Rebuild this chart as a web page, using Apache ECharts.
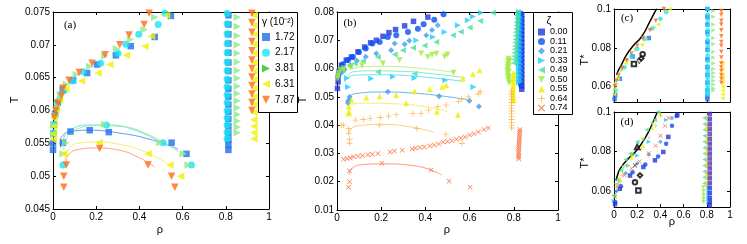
<!DOCTYPE html>
<html><head><meta charset="utf-8">
<script src="https://cdn.jsdelivr.net/npm/echarts@6/dist/echarts.min.js"></script>
<style>html,body{margin:0;padding:0;background:#fff}#c{width:747px;height:244px}</style>
</head><body><div id="c"></div>
<script>
// ---------- tick labels / legend names ----------
const gammaNames = ['1.72','2.17','3.81','6.31','7.87'];
const zetaNames = ['0.00','0.11','0.21','0.33','0.49','0.50','0.55','0.64','0.74'];
const xTicksRho = [0, 0.2, 0.4, 0.6, 0.8, 1];
const yTicksA = [0.045, 0.05, 0.055, 0.06, 0.065, 0.07, 0.075];
const yTicksB = [0.01, 0.02, 0.03, 0.04, 0.05, 0.06, 0.07, 0.08];
const yTicksCD = [0.06, 0.08, 0.1];

// ---------- panel (a): T vs rho, by gamma ----------
const a172 = [[0.546,0.0744],[0.471,0.0712],[0.360,0.0698],[0.291,0.0684],[0.204,0.0670],[0.158,0.0657],[0.093,0.0646],[0.045,0.0632],[0.022,0.0612],[0.010,0.0595],[0.004,0.0578],[0.002,0.0565],
  [0.000,0.0550],[0.000,0.0540],[0.046,0.0551],[0.081,0.0568],[0.170,0.0570],[0.258,0.0567],[0.549,0.0551],[0.618,0.0534]];
const a172LiqRho = 0.812;
const a172LiqT = [0.0745,0.0731,0.0716,0.0702,0.0688,0.0673,0.0660,0.0646,0.0633,0.0621,0.0609,0.0598,0.0587,0.0576,0.0566,0.0556,0.0548,0.0540];
const a217 = [[0.518,0.0748],[0.487,0.0731],[0.397,0.0716],[0.337,0.0701],[0.301,0.0687],[0.220,0.0672],[0.139,0.0659],[0.090,0.0645],[0.050,0.0630],[0.030,0.0616],[0.016,0.0603],[0.009,0.0591],[0.005,0.0579],[0.003,0.0566],
  [0.046,0.0517],[0.247,0.0578],[0.510,0.0551],[0.641,0.0517]];
const a217LiqRho = 0.806;
const a217LiqT = [0.0748,0.0732,0.0717,0.0702,0.0688,0.0674,0.0661,0.0648,0.0636,0.0624,0.0612,0.0600,0.0589,0.0578,0.0567,0.0557];
const a381 = [[0.471,0.0742],[0.422,0.0723],[0.359,0.0708],[0.294,0.0694],[0.240,0.0683],[0.170,0.0667],[0.108,0.0655],[0.062,0.0640],[0.035,0.0624],[0.020,0.0608],[0.011,0.0593],[0.006,0.0578],[0.003,0.0563],
  [0.059,0.0551],[0.046,0.0534],[0.240,0.0579],[0.495,0.0551],[0.603,0.0534],[0.626,0.0517]];
const a381LiqRho = 0.853;
const a381LiqT = [0.0742,0.0728,0.0714,0.0700,0.0687,0.0674,0.0661,0.0649,0.0637,0.0626,0.0615,0.0604,0.0594,0.0584,0.0575,0.0566];
const a631 = [[0.526,0.0745],[0.456,0.0713],[0.425,0.0698],[0.340,0.0684],[0.263,0.0670],[0.209,0.0657],[0.132,0.0645],[0.060,0.0633],[0.030,0.0616],[0.014,0.0601],[0.006,0.0588],[0.003,0.0576],[0.001,0.0565],[0.001,0.0556],
  [0.050,0.0534],[0.213,0.0551],[0.440,0.0534],[0.541,0.0517],[0.591,0.0500]];
const a631LiqRho = 0.930;
const a631LiqT = [0.0745,0.0730,0.0716,0.0701,0.0687,0.0673,0.0660,0.0647,0.0634,0.0621,0.0609,0.0597,0.0586,0.0576,0.0566,0.0557];
const a787 = [[0.445,0.0748],[0.422,0.0731],[0.352,0.0715],[0.309,0.0700],[0.241,0.0685],[0.181,0.0672],[0.121,0.0658],[0.074,0.0646],[0.046,0.0634],[0.039,0.0622],[0.023,0.0611],[0.013,0.0600],[0.007,0.0590],
  [0.062,0.0517],[0.050,0.0500],[0.050,0.0483],[0.216,0.0542],[0.440,0.0517],[0.549,0.0500],[0.564,0.0483]];
const a787LiqRho = 0.921;
const a787LiqT = [0.0748,0.0734,0.0719,0.0705,0.0691,0.0677,0.0664,0.0651,0.0638,0.0625,0.0612,0.0600];
const aFit172 = [[0.036,0.0543],[0.034,0.0552],[0.045,0.0562],[0.08,0.0568],[0.17,0.0570],[0.30,0.0566],[0.45,0.0556],[0.58,0.0541]];
const aFit217 = [[0.045,0.0545],[0.05,0.0558],[0.09,0.0572],[0.17,0.0578],[0.25,0.0578],[0.38,0.0570],[0.50,0.0551]];
const aFit381 = [[0.05,0.0540],[0.06,0.0556],[0.10,0.0570],[0.20,0.0577],[0.30,0.0576],[0.45,0.0562],[0.58,0.0537]];
const aFit631 = [[0.054,0.0525],[0.07,0.0540],[0.116,0.0550],[0.20,0.0552],[0.30,0.0549],[0.42,0.0538],[0.53,0.0519]];
const aFit787 = [[0.06,0.0522],[0.075,0.0534],[0.124,0.0541],[0.20,0.0543],[0.30,0.0540],[0.40,0.0528],[0.47,0.0514]];

// ---------- panel (b): T vs rho, by zeta ----------
const b000 = [[0.411,0.0782],[0.346,0.0767],[0.306,0.0751],[0.265,0.0738],[0.235,0.0727],[0.208,0.0714],[0.178,0.0700],[0.152,0.0691],[0.125,0.0676],[0.095,0.0659],[0.065,0.0641],[0.042,0.0630],[0.020,0.0612],[0.009,0.0588],[0.005,0.0553],[0.002,0.0530]];
const b000LiqRho = 0.836;
const b000LiqT = [0.0790,0.0776,0.0762,0.0748,0.0734,0.0720,0.0706,0.0692,0.0678,0.0664,0.0650,0.0636,0.0622,0.0608,0.0594,0.0580,0.0566,0.0552,0.0538,0.0527];
const b011 = [[0.482,0.0792],[0.440,0.0773],[0.392,0.0757],[0.366,0.0741],[0.321,0.0729],[0.268,0.0718],[0.230,0.0712],[0.193,0.0694],[0.160,0.0689],[0.130,0.0671],[0.099,0.0659],[0.072,0.0641],[0.050,0.0630],[0.027,0.0615],[0.012,0.0594],[0.005,0.0571]];
const b011LiqRho = 0.832;
const b011LiqT = [0.0795,0.0780,0.0765,0.0750,0.0735,0.0720,0.0705,0.0690,0.0675,0.0660,0.0645,0.0630,0.0615,0.0600,0.0585,0.0570,0.0555,0.0543];
const b021 = [[0.456,0.0753],[0.430,0.0736],[0.404,0.0718],[0.327,0.0698],[0.306,0.0686],[0.261,0.0689],[0.245,0.0665],[0.178,0.0653],[0.130,0.0642],[0.090,0.0628],[0.060,0.0612],[0.035,0.0598],[0.020,0.0585],
  [0.050,0.0478],[0.054,0.0488],[0.057,0.0500],[0.230,0.0518],[0.462,0.0502],[0.599,0.0486],[0.642,0.0466]];
const b021LiqRho = 0.828;
const b021LiqT = [0.0780,0.0765,0.0750,0.0735,0.0720,0.0705,0.0690,0.0675,0.0660,0.0645,0.0630,0.0615,0.0600,0.0585,0.0570,0.0557];
const b033 = [[0.652,0.0797],[0.615,0.0784],[0.592,0.0771],[0.547,0.0753],[0.487,0.0729],[0.434,0.0712],[0.359,0.0700],
  [0.045,0.0567],[0.050,0.0535],[0.155,0.0565],[0.253,0.0571],[0.351,0.0567],[0.490,0.0559],[0.617,0.0535]];
const b033LiqRho = 0.823;
const b033LiqT = [0.0800,0.0785,0.0770,0.0755,0.0740,0.0725,0.0710,0.0695,0.0680,0.0665,0.0650,0.0635,0.0620,0.0605,0.0590,0.0575,0.0562,0.0552];
const b049 = [[0.705,0.0797],[0.648,0.0768],[0.600,0.0745],[0.560,0.0730],[0.524,0.0718],[0.449,0.0694],[0.396,0.0682],[0.344,0.0674],[0.298,0.0665],[0.261,0.0650],[0.185,0.0641],[0.117,0.0627],[0.080,0.0618],[0.057,0.0609],[0.027,0.0594],
  [0.185,0.0588],[0.351,0.0582],
  [0.818,0.0800],[0.816,0.0788],[0.815,0.0776],[0.813,0.0764],[0.812,0.0752],[0.811,0.0740],[0.810,0.0728],[0.809,0.0716],[0.808,0.0704],[0.807,0.0692],[0.806,0.0680],[0.805,0.0668],[0.804,0.0656],[0.803,0.0644],[0.802,0.0632],[0.801,0.0620]];
const b050 = [[0.381,0.0653],[0.411,0.0641],[0.430,0.0648],[0.450,0.0652],[0.487,0.0643],[0.500,0.0650],[0.283,0.0630],[0.208,0.0618],[0.113,0.0612],[0.060,0.0605],[0.030,0.0600],[0.015,0.0595],[0.008,0.0585],[0.004,0.0575],[0.003,0.0565],[0.527,0.0585],
  [0.776,0.0635],[0.774,0.0625],[0.773,0.0615],[0.772,0.0605],[0.771,0.0595],[0.772,0.0585],[0.773,0.0575],[0.775,0.0565],[0.777,0.0557],[0.779,0.0550],[0.780,0.0628],[0.779,0.0610],[0.778,0.0590],[0.779,0.0570]];
const b055 = [[0.645,0.0594],[0.615,0.0580],[0.569,0.0565],[0.494,0.0541],[0.476,0.0536],[0.420,0.0528],[0.351,0.0520],
  [0.268,0.0506],[0.193,0.0502],[0.133,0.0498],[0.065,0.0488],[0.054,0.0465],[0.054,0.0447],[0.053,0.0441],
  [0.313,0.0477],[0.452,0.0447],[0.547,0.0437],
  [0.800,0.0585],[0.799,0.0575],[0.798,0.0565],[0.797,0.0555],[0.797,0.0545],[0.796,0.0535],[0.796,0.0525],[0.797,0.0515],[0.797,0.0505],[0.798,0.0495],[0.798,0.0487]];
const b064 = [[0.648,0.0518],[0.640,0.0510],[0.595,0.0500],[0.563,0.0492],[0.550,0.0484],[0.494,0.0471],[0.456,0.0465],[0.414,0.0453],[0.381,0.0441],[0.343,0.0441],[0.268,0.0438],[0.233,0.0432],[0.196,0.0427],[0.150,0.0424],[0.120,0.0420],[0.083,0.0418],[0.030,0.0400],[0.020,0.0400],[0.193,0.0400],[0.361,0.0388],[0.493,0.0368],[0.565,0.0335],[0.053,0.0388],[0.053,0.0371],[0.057,0.0350],[0.057,0.0336]];
const b064LiqRho = 0.790;
const b064LiqT = [0.0520,0.0510,0.0500,0.0490,0.0480,0.0470,0.0460,0.0450,0.0440,0.0430,0.0420,0.0410,0.0400,0.0390];
const b074 = [[0.030,0.0279],[0.045,0.0282],[0.060,0.0284],[0.075,0.0288],[0.095,0.0290],[0.115,0.0292],[0.140,0.0295],[0.160,0.0297],[0.185,0.0300],[0.240,0.0305],[0.260,0.0309],[0.295,0.0311],[0.340,0.0316],[0.355,0.0318],[0.375,0.0321],[0.395,0.0323],[0.420,0.0326],[0.440,0.0330],[0.460,0.0333],[0.480,0.0340],[0.500,0.0342],[0.520,0.0345],[0.540,0.0350],[0.560,0.0354],[0.580,0.0358],[0.600,0.0365],[0.620,0.0370],[0.640,0.0376],[0.665,0.0385],[0.685,0.0390],
  [0.057,0.0239],[0.057,0.0200],[0.052,0.0180],[0.203,0.0265],[0.426,0.0241],[0.507,0.0202],[0.602,0.0180],
  [0.828,0.0385],[0.827,0.0378],[0.826,0.0371],[0.826,0.0364],[0.825,0.0357],[0.825,0.0350],[0.824,0.0343],[0.824,0.0336],[0.823,0.0329],[0.823,0.0322],[0.822,0.0315],[0.822,0.0308],[0.822,0.0301],[0.822,0.0294],[0.822,0.0287],[0.822,0.0280]];
const bFit021 = [[0.040,0.0478],[0.050,0.0495],[0.087,0.0512],[0.20,0.0517],[0.35,0.0513],[0.59,0.0490]];
const bFit033 = [[0.035,0.0550],[0.045,0.0565],[0.087,0.0577],[0.20,0.0578],[0.35,0.0573],[0.569,0.0555]];
const bFit049 = [[0.05,0.0575],[0.07,0.0588],[0.15,0.0592],[0.30,0.0590],[0.45,0.0580],[0.58,0.0568]];
const bFit050 = [[0.06,0.0595],[0.10,0.0605],[0.20,0.0608],[0.35,0.0603],[0.517,0.0588]];
const bFit055 = [[0.05,0.0462],[0.07,0.0474],[0.12,0.0478],[0.25,0.0476],[0.40,0.0465],[0.50,0.0448]];
const bFit064 = [[0.055,0.0370],[0.068,0.0390],[0.12,0.0400],[0.20,0.0403],[0.30,0.0398],[0.437,0.0376]];
const bFit074 = [[0.055,0.0225],[0.065,0.0245],[0.11,0.0260],[0.211,0.0263],[0.361,0.0255],[0.474,0.0224]];

// ---------- panel (c): T* vs rho, by gamma ----------
const c172 = [[0.005,0.0535],[0.010,0.0555],[0.050,0.0640],[0.160,0.0755],[0.300,0.0850],
  [0.805,0.1000],[0.805,0.0960],[0.805,0.0920],[0.805,0.0880],[0.805,0.0830],[0.805,0.0790],[0.805,0.0740],[0.805,0.0700],[0.805,0.0660],[0.805,0.0620],[0.805,0.0580],[0.805,0.0550],[0.805,0.0535]];
const c217 = [[0.015,0.0580],[0.040,0.0640],[0.090,0.0700],[0.150,0.0755],[0.200,0.0795],[0.260,0.0845],[0.330,0.0900],[0.400,0.0950],[0.450,0.0985],
  [0.808,0.1000],[0.808,0.0970],[0.808,0.0945],[0.808,0.0915],[0.808,0.0890],[0.808,0.0865],[0.808,0.0840],[0.808,0.0810],[0.808,0.0785],[0.808,0.0760],[0.808,0.0730],[0.808,0.0705],[0.808,0.0680],[0.808,0.0660],[0.808,0.0640],[0.808,0.0620],[0.808,0.0600],[0.808,0.0585],[0.808,0.0570],[0.808,0.0560]];
const c381 = [[0.020,0.0615],[0.070,0.0685],[0.120,0.0735],[0.190,0.0790],[0.280,0.0845],[0.350,0.0905],[0.460,0.0990],
  [0.858,0.0990],[0.858,0.0960],[0.858,0.0920],[0.858,0.0890],[0.858,0.0850],[0.858,0.0820],[0.858,0.0780],[0.858,0.0750],[0.858,0.0720],[0.858,0.0690],[0.858,0.0670],[0.858,0.0650],[0.858,0.0630],[0.858,0.0610],[0.858,0.0590],[0.858,0.0580]];
const c631 = [[0.000,0.0560],[0.005,0.0590],[0.030,0.0640],[0.100,0.0720],[0.240,0.0815],[0.380,0.0920],[0.480,0.1000],
  [0.935,0.0720],[0.935,0.0690],[0.935,0.0660],[0.935,0.0640],[0.935,0.0620],[0.935,0.0600],[0.935,0.0580],[0.935,0.0560],[0.935,0.0540]];
const c787 = [[0.008,0.0600],[0.020,0.0630],[0.040,0.0660],[0.070,0.0695],[0.110,0.0735],[0.150,0.0770],[0.200,0.0810],[0.250,0.0850],[0.310,0.0890],[0.360,0.0940],[0.430,0.1000],
  [0.925,0.0990],[0.925,0.0970],[0.925,0.0940],[0.925,0.0920],[0.925,0.0890],[0.925,0.0860],[0.925,0.0830],[0.925,0.0810],[0.925,0.0780],[0.925,0.0750],[0.925,0.0720],[0.925,0.0700],[0.925,0.0680],[0.925,0.0660],[0.925,0.0640],[0.925,0.0620]];
const cTheory = [[0.023,0.0660],[0.035,0.0680],[0.058,0.0705],[0.109,0.0764],[0.166,0.0810],[0.239,0.0858],[0.310,0.0936],[0.362,0.0996],[0.370,0.1000]];
const cOpenSq = [[0.172,0.0716]];
const cOpenTri = [[0.218,0.0729]];
const cOpenDia = [[0.235,0.0745]];
const cOpenCir = [[0.247,0.0767]];

// ---------- panel (d): T* vs rho, by zeta ----------
const d000 = [[0.009,0.0535],[0.050,0.0612],[0.138,0.0679],[0.253,0.0722],[0.353,0.0756],[0.425,0.0798],[0.468,0.0874],[0.546,0.0985]];
const d000LiqRho = 0.826;
const d000LiqT = [0.0990,0.0965,0.0940,0.0915,0.0890,0.0865,0.0840,0.0815,0.0790,0.0765,0.0740,0.0715,0.0690,0.0665,0.0640,0.0615,0.0590,0.0565,0.0545,0.0530];
const d011 = [[0.010,0.0545],[0.060,0.0625],[0.160,0.0695],[0.270,0.0735],[0.380,0.0775],[0.450,0.0840],[0.500,0.0930],[0.540,0.0980]];
const d021 = [[0.020,0.0600],[0.100,0.0690],[0.200,0.0740],[0.300,0.0785],[0.400,0.0850],[0.500,0.0970]];
const d033 = [[0.000,0.0550],[0.050,0.0650],[0.120,0.0730],[0.200,0.0780],[0.300,0.0850],[0.450,0.0960],
  [0.815,0.0620],[0.815,0.0600],[0.815,0.0580],[0.815,0.0560],[0.815,0.0540]];
const d049 = [[0.000,0.0580],[0.030,0.0660],[0.060,0.0705],[0.100,0.0760],[0.140,0.0790],[0.200,0.0850],[0.280,0.0910],[0.350,0.0960],[0.380,0.1000]];
const d049LiqRho = 0.780;
const d049LiqT = [0.0970,0.0940,0.0910,0.0880,0.0850,0.0820,0.0790,0.0760,0.0730,0.0700,0.0670,0.0640];
const d050 = [[0.000,0.0570],[0.020,0.0630],[0.080,0.0720],[0.150,0.0780],[0.250,0.0860],[0.330,0.0940],
  [0.772,0.0620],[0.772,0.0600],[0.772,0.0580],[0.772,0.0560],[0.772,0.0545]];
const d055 = [[0.050,0.0660],[0.150,0.0770],[0.250,0.0830],[0.330,0.0920],[0.400,0.0990],
  [0.800,0.0920],[0.800,0.0860],[0.800,0.0800],[0.800,0.0740],[0.800,0.0680],[0.800,0.0640]];
const d064 = [[0.020,0.0620],[0.070,0.0680],[0.120,0.0730],[0.170,0.0780],[0.230,0.0810],[0.300,0.0870],[0.360,0.0930],[0.400,0.0980]];
const d064LiqRho = 0.803;
const d064LiqT = [0.0990,0.0960,0.0930,0.0900,0.0870,0.0840,0.0810,0.0780,0.0750,0.0720,0.0690,0.0660,0.0630];
const d074 = [[0.010,0.0570],[0.040,0.0630],[0.090,0.0680],[0.150,0.0715],[0.220,0.0750],[0.300,0.0790],[0.360,0.0830],[0.400,0.0880],[0.440,0.0930],[0.470,0.0970]];
const d074LiqRho = 0.822;
const d074LiqT = [0.0980,0.0950,0.0920,0.0890,0.0860,0.0830,0.0800,0.0770,0.0740,0.0710,0.0680,0.0650];
const dTheory = [[0.017,0.0654],[0.030,0.0680],[0.052,0.0713],[0.123,0.0764],[0.196,0.0807],[0.282,0.0883],[0.330,0.0940],[0.373,0.1000]];
const dOpenTri = [[0.200,0.0823]];
const dOpenX = [[0.181,0.0730]];
const dOpenDia = [[0.224,0.0680]];
const dOpenCir = [[0.181,0.0645]];
const dOpenSq = [[0.210,0.0603]];

// ---------- helpers ----------
function pts(rho, Ts) { return Ts.map(t => [rho, t]); }
const FONT = 'Liberation Sans';
const PLUS = 'path://M0,4.3H10V5.7H0Z M4.3,0H5.7V10H4.3Z';
const XMARK = 'path://M0,1L1,0L10,9L9,10Z M9,0L10,1L1,10L0,9Z';
const TRI_R = 'path://M0,0L10,5L0,10Z';
const TRI_L = 'path://M10,0L0,5L10,10Z';
const TRI_D = 'path://M0,0L10,0L5,10Z';
const TRI_U = 'path://M5,0L10,10L0,10Z';
const colA = {'1.72':'#1f6fe8','2.17':'#18e4f4','3.81':'#8ee88e','6.31':'#f0f000','7.87':'#ff6a14'};
const symA = {'1.72':'rect','2.17':'circle','3.81':TRI_R,'6.31':TRI_L,'7.87':TRI_D};
const colB = {'0.00':'#2236dd','0.11':'#0a4ef2','0.21':'#3d9df0','0.33':'#18cfff','0.49':'#44df9c','0.50':'#a0ea40','0.55':'#f0ee00','0.64':'#ffb040','0.74':'#ff5a28'};
const symB = {'0.00':'rect','0.11':'circle','0.21':'diamond','0.33':TRI_R,'0.49':TRI_L,'0.50':TRI_D,'0.55':TRI_U,'0.64':PLUS,'0.74':XMARK};

function S(name, data, gi, cols, syms, size) {
  return {type:'scatter', name, data, xAxisIndex:gi, yAxisIndex:gi, symbol:syms[name],
    symbolSize:size, itemStyle:{color:cols[name]}, silent:true, z:2};
}
function O(data, gi, sym) {
  return {type:'scatter', data, xAxisIndex:gi, yAxisIndex:gi, symbol:sym, symbolSize:4.5,
    itemStyle:{color:'#000', borderWidth:0.8}, silent:true, z:3};
}
function L(data, gi, color, w) {
  return {type:'line', data, xAxisIndex:gi, yAxisIndex:gi, smooth:0.5, showSymbol:false, symbol:'none',
    lineStyle:{color, width:w||1}, silent:true, z:1};
}
function legItem(name, cols, syms, override) {
  return {name, icon:syms[name], itemStyle:{color: override || cols[name]}};
}

const grids = [
  {left:53, top:12, width:216, height:197},
  {left:337, top:12, width:221, height:198},
  {left:614, top:9, width:116, height:93},
  {left:614, top:112, width:116, height:95}
];
const fmt = v => String(+(+v).toFixed(4));
const lblStyle = {color:'#000', fontFamily:FONT, fontSize:10};
const lineSt = {lineStyle:{color:'#000', width:1}};

const xAxes = [], yAxes = [];
const yCfg = [
  {min:yTicksA[0], max:yTicksA[yTicksA.length-1], interval:0.005},
  {min:yTicksB[0], max:yTicksB[yTicksB.length-1], interval:0.01},
  {min:0.052, max:0.1, custom:yTicksCD},
  {min:0.052, max:0.1, custom:yTicksCD}
];
for (let i = 0; i < 4; i++) {
  const showX = i !== 2;
  for (const pos of ['bottom','top']) {
    xAxes.push({type:'value', gridIndex:i, position:pos, min:xTicksRho[0], max:xTicksRho[xTicksRho.length-1], interval:0.2,
      axisLine:{show:true, onZero:false, ...lineSt}, splitLine:{show:false},
      axisTick:{show:true, inside:true, length:3, ...lineSt},
      axisLabel:{show: pos==='bottom' && showX, margin:3, formatter:fmt, ...lblStyle}});
  }
  for (const pos of ['left','right']) {
    const c = yCfg[i];
    const ax = {type:'value', gridIndex:i, position:pos, min:c.min, max:c.max,
      axisLine:{show:true, onZero:false, ...lineSt}, splitLine:{show:false},
      axisTick:{show:true, inside:true, length:3, ...lineSt},
      axisLabel:{show: pos==='left', margin:3, formatter:fmt, ...lblStyle}};
    if (c.interval) ax.interval = c.interval;
    if (c.custom) { ax.axisTick.customValues = c.custom; ax.axisLabel.customValues = c.custom; }
    yAxes.push(ax);
  }
}
function remap(s) { s.xAxisIndex = s.xAxisIndex * 2; s.yAxisIndex = s.yAxisIndex * 2; return s; }

const series = [
  L(aFit172,0,'#5e9ff2'), L(aFit217,0,'#6fe2e2'), L(aFit381,0,'#a2eea2'), L(aFit631,0,'#f4f06a'), L(aFit787,0,'#ffa270'),
  S('1.72', a172.concat(pts(a172LiqRho,a172LiqT)), 0, colA, symA, 6.5),
  S('2.17', a217.concat(pts(a217LiqRho,a217LiqT)), 0, colA, symA, 7),
  S('3.81', a381.concat(pts(a381LiqRho,a381LiqT)), 0, colA, symA, 7.5),
  S('6.31', a631.concat(pts(a631LiqRho,a631LiqT)), 0, colA, symA, 7.5),
  S('7.87', a787.concat(pts(a787LiqRho,a787LiqT)), 0, colA, symA, 7.5),
  L(bFit021,1,'#6ab4f2'), L(bFit033,1,'#6ee0f8'), L(bFit049,1,'#8ee8c0'), L(bFit050,1,'#c4f08c'),
  L(bFit055,1,'#f2f06a'), L(bFit064,1,'#ffcc80'), L(bFit074,1,'#ff9a78'),
  S('0.00', b000.concat(pts(b000LiqRho,b000LiqT)), 1, colB, symB, 5.5),
  S('0.11', b011.concat(pts(b011LiqRho,b011LiqT)), 1, colB, symB, 6),
  S('0.21', b021.concat(pts(b021LiqRho,b021LiqT)), 1, colB, symB, 6),
  S('0.33', b033.concat(pts(b033LiqRho,b033LiqT)), 1, colB, symB, 6),
  S('0.49', b049, 1, colB, symB, 6),
  S('0.50', b050, 1, colB, symB, 6),
  S('0.55', b055, 1, colB, symB, 6),
  S('0.64', b064.concat(pts(b064LiqRho,b064LiqT)), 1, colB, symB, 6),
  S('0.74', b074, 1, colB, symB, 5),
  S('1.72', c172, 2, colA, symA, 4.5), S('2.17', c217, 2, colA, symA, 4.5), S('3.81', c381, 2, colA, symA, 4.5),
  S('6.31', c631, 2, colA, symA, 4.5), S('7.87', c787, 2, colA, symA, 4.5),
  L(cTheory, 2, '#000', 1.5),
  O(cOpenSq,2,'emptyRect'), O(cOpenTri,2,'path://M0,0L10,0L5,10Z'), O(cOpenDia,2,'emptyDiamond'), O(cOpenCir,2,'emptyCircle'),
  S('0.50', d050, 3, colB, symB, 4.5),
  S('0.49', d049.concat(pts(d049LiqRho,d049LiqT)), 3, colB, symB, 4.5),
  S('0.33', d033, 3, colB, symB, 4.5),
  S('0.55', d055, 3, colB, symB, 4.5),
  S('0.64', d064.concat(pts(d064LiqRho,d064LiqT)), 3, colB, symB, 4.5),
  S('0.21', d021, 3, colB, symB, 4.5),
  S('0.11', d011, 3, colB, symB, 4.5),
  S('0.00', d000.concat(pts(d000LiqRho,d000LiqT)), 3, colB, symB, 4.5),
  S('0.74', d074.concat(pts(d074LiqRho,d074LiqT)), 3, colB, symB, 4.5),
  L(dTheory, 3, '#000', 1.5),
  O(dOpenTri,3,'emptyTriangle'), O(dOpenX,3,XMARK), O(dOpenDia,3,'emptyDiamond'), O(dOpenCir,3,'emptyCircle'), O(dOpenSq,3,'emptyRect')
].map(remap);
// the open down-triangle in (c) should be hollow
series.forEach(s => { if (s.symbol === 'path://M0,0L10,0L5,10Z' && s.itemStyle.color === '#000') { s.itemStyle = {color:'#fff', borderColor:'#000', borderWidth:0.8}; } });

function txt(x, y, text, opt) {
  return {type:'text', x, y, rotation: (opt&&opt.rot)||0, z:10, style:{text, fill:'#000',
    font: (opt&&opt.font) || ('10px ' + FONT), textAlign:(opt&&opt.align)||'center', textVerticalAlign:'middle'}};
}

const option = {
  animation:false,
  backgroundColor:'#fff',
  grid: grids,
  xAxis: xAxes,
  yAxis: yAxes,
  series,
  legend: [
    {data: gammaNames.map(n => legItem(n, colA, symA, n==='3.81' ? '#22c422' : null)),
     orient:'vertical', left:262, top:32, itemWidth:8, itemHeight:8, itemGap:5.7, padding:0, selectedMode:false,
     textStyle:{fontFamily:FONT, fontSize:10, color:'#000', lineHeight:10}, z:6},
    {data: zetaNames.map(n => legItem(n, colB, symB, null)),
     orient:'vertical', left:538, top:27.5, itemWidth:7, itemHeight:7, itemGap:0.5, padding:0, selectedMode:false,
     textStyle:{fontFamily:FONT, fontSize:9, color:'#000', lineHeight:9}, z:6}
  ],
  graphic: [
    {type:'rect', z:5, shape:{x:258.5, y:12.5, width:39, height:100}, style:{fill:'#fff', stroke:'#000', lineWidth:1}},
    {type:'rect', z:5, shape:{x:533.5, y:12.5, width:39, height:102}, style:{fill:'#fff', stroke:'#000', lineWidth:1}},
    txt(262, 22, 'γ (10⁻²)', {align:'left'}),
    txt(549, 21, 'ζ', {font:'11px ' + FONT}),
    txt(70, 25, '(a)', {font:'11px "Liberation Serif"'}),
    txt(350, 23, '(b)', {font:'11px "Liberation Serif"'}),
    txt(627, 18, '(c)', {font:'11px "Liberation Serif"'}),
    txt(627, 122, '(d)', {font:'11px "Liberation Serif"'}),
    txt(15, 100, 'T', {rot:Math.PI/2, font:'11px ' + FONT}),
    txt(303, 100, 'T', {rot:Math.PI/2, font:'11px ' + FONT}),
    txt(585, 60, 'T*', {rot:Math.PI/2, font:'11px ' + FONT}),
    txt(585, 163, 'T*', {rot:Math.PI/2, font:'11px ' + FONT}),
    txt(160, 230, 'ρ', {font:'11px ' + FONT}),
    txt(447, 230, 'ρ', {font:'11px ' + FONT}),
    txt(672, 222, 'ρ', {font:'11px ' + FONT})
  ]
};
const chart = echarts.init(document.getElementById('c'), null, {renderer:'canvas'});
chart.setOption(option);
</script></body></html>
